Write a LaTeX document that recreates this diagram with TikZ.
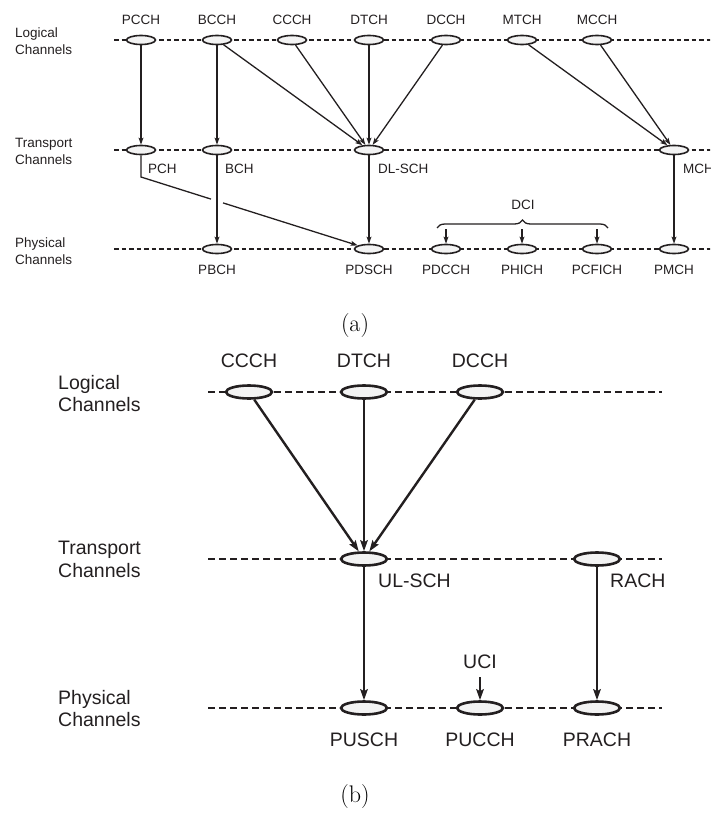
\documentclass[tikz,border=0pt]{standalone}
\usepackage{fontspec}
\newfontfamily\chfont{Liberation Sans}
\usetikzlibrary{arrows.meta,shapes.geometric,decorations.pathreplacing,calc}
\definecolor{ink}{HTML}{231F20}
\definecolor{chfill}{HTML}{F3F3F3}
\begin{document}
\begin{tikzpicture}[x=1pt,y=-1pt,
  % part (a): thin strokes, small text
  chA/.style={ellipse, draw=ink, fill=chfill, line width=1.6pt, minimum width=29pt, minimum height=9pt, inner sep=0pt},
  txtA/.style={font=\chfont\fontsize{13.5}{16}\selectfont, text=ink, inner sep=0pt, anchor=base},
  lvlA/.style={draw=ink, line width=1.4pt, dash pattern=on 4.5pt off 3pt},
  arrA/.style={draw=ink, line width=1.3pt, -{Stealth[length=7pt,width=4.8pt,inset=1.4pt]}},
  linA/.style={draw=ink, line width=1.3pt},
  % part (b): heavy strokes, larger text
  chB/.style={ellipse, draw=ink, fill=chfill, line width=2.6pt, minimum width=46pt, minimum height=13pt, inner sep=0pt},
  txtB/.style={font=\chfont\fontsize{19.5}{23}\selectfont, text=ink, inner sep=0pt, anchor=base},
  lvlB/.style={draw=ink, line width=2.4pt, dash pattern=on 7pt off 4pt},
  arrB/.style={draw=ink, line width=2.4pt, -{Stealth[length=11pt,width=7.5pt,inset=2pt]}},
  capt/.style={font=\rmfamily\fontsize{24}{28}\selectfont, inner sep=0pt}]
\clip (0,0) rectangle (710,813);

% ---------------- (a) downlink ----------------
\draw[lvlA] (114,40) -- (712,40);
\draw[lvlA] (114,150) -- (712,150);
\draw[lvlA] (114,249) -- (712,249);

\node[txtA, anchor=base west] (la1) at (15,38) {Logical};
\node[txtA, anchor=base west] (la2) at (15,55) {Channels};
\node[txtA, anchor=base west] (ta1) at (15,148) {Transport};
\node[txtA, anchor=base west] (ta2) at (15,165) {Channels};
\node[txtA, anchor=base west] (pa1) at (15,247) {Physical};
\node[txtA, anchor=base west] (pa2) at (15,264) {Channels};

% logical channels
\node[chA] (pcch) at (141,40) {};
\node[chA] (bcch) at (217,40) {};
\node[chA] (ccch) at (292,40) {};
\node[chA] (dtch) at (369,40) {};
\node[chA] (dcch) at (446,40) {};
\node[chA] (mtch) at (522,40) {};
\node[chA] (mcch) at (597,40) {};
\node[txtA] (tpcch) at (141,25) {PCCH};
\node[txtA] (tbcch) at (217,25) {BCCH};
\node[txtA] (tccch) at (292,25) {CCCH};
\node[txtA] (tdtch) at (369,25) {DTCH};
\node[txtA] (tdcch) at (446,25) {DCCH};
\node[txtA] (tmtch) at (522,25) {MTCH};
\node[txtA] (tmcch) at (597,25) {MCCH};

% transport channels
\node[chA] (pch) at (141,150) {};
\node[chA] (bch) at (217,150) {};
\node[chA] (dlsch) at (369,150) {};
\node[chA] (mch) at (674,150) {};
\node[txtA, anchor=base west] (tpch) at (148,174) {PCH};
\node[txtA, anchor=base west] (tbch) at (225,174) {BCH};
\node[txtA, anchor=base west] (tdlsch) at (378,174) {DL-SCH};
\node[txtA, anchor=base west] (tmch) at (683,174) {MCH};

% physical channels
\node[chA] (pbch) at (217,249) {};
\node[chA] (pdsch) at (369,249) {};
\node[chA] (pdcch) at (446,249) {};
\node[chA] (phich) at (522,249) {};
\node[chA] (pcfich) at (597,249) {};
\node[chA] (pmch) at (674,249) {};
\node[txtA] (tpbch) at (217,274) {PBCH};
\node[txtA] (tpdsch) at (369,274) {PDSCH};
\node[txtA] (tpdcch) at (446,274) {PDCCH};
\node[txtA] (tphich) at (522,274) {PHICH};
\node[txtA] (tpcfich) at (597,274) {PCFICH};
\node[txtA] (tpmch) at (674,274) {PMCH};

% logical -> transport
\draw[arrA] (pcch) -- (pch);
\draw[arrA] (bcch) -- (bch);
\draw[arrA] (bcch) -- (dlsch);
\draw[arrA] (ccch) -- (dlsch);
\draw[arrA] (dtch) -- (dlsch);
\draw[arrA] (dcch) -- (dlsch);
\draw[arrA] (mtch) -- (mch);
\draw[arrA] (mcch) -- (mch);

% transport -> physical
\draw[arrA] (bch) -- (pbch);
\draw[arrA] (dlsch) -- (pdsch);
\draw[arrA] (mch) -- (pmch);
\coordinate (pchbend) at (141,177);
\coordinate (gapL) at ($(pchbend)!0.307!(pdsch)$);
\coordinate (gapR) at ($(pchbend)!0.360!(pdsch)$);
\draw[linA] (pch) -- (pchbend) -- (gapL);
\draw[arrA] (gapR) -- (pdsch);

% control information brace
\draw[draw=ink, line width=1.3pt, decorate, decoration={brace, amplitude=8pt}] (437,228) -- (608,228);
\node[txtA] (tdci) at (523,209) {DCI};
\coordinate (dci1) at (446,229);
\coordinate (dci2) at (522,229);
\coordinate (dci3) at (597,229);
\draw[arrA] (dci1) -- (pdcch);
\draw[arrA] (dci2) -- (phich);
\draw[arrA] (dci3) -- (pcfich);

\node[capt] (capa) at (355,326) {(a)};

% ---------------- (b) uplink ----------------
\draw[lvlB] (208,392) -- (662,392);
\draw[lvlB] (208,559) -- (662,559);
\draw[lvlB] (208,708) -- (662,708);

\node[txtB, anchor=base west] (lb1) at (58,389) {Logical};
\node[txtB, anchor=base west] (lb2) at (58,411) {Channels};
\node[txtB, anchor=base west] (tb1) at (58,554) {Transport};
\node[txtB, anchor=base west] (tb2) at (58,577) {Channels};
\node[txtB, anchor=base west] (pb1) at (58,704) {Physical};
\node[txtB, anchor=base west] (pb2) at (58,726) {Channels};

\node[chB] (uccch) at (249,392) {};
\node[chB] (udtch) at (364,392) {};
\node[chB] (udcch) at (480,392) {};
\node[txtB] (tuccch) at (249,367) {CCCH};
\node[txtB] (tudtch) at (364,367) {DTCH};
\node[txtB] (tudcch) at (480,367) {DCCH};

\node[chB] (ulsch) at (364,559) {};
\node[chB] (rach) at (597,559) {};
\node[txtB, anchor=base west] (tulsch) at (378,587) {UL-SCH};
\node[txtB, anchor=base west] (trach) at (610,587) {RACH};

\node[chB] (pusch) at (364,708) {};
\node[chB] (pucch) at (480,708) {};
\node[chB] (prach) at (597,708) {};
\node[txtB] (tpusch) at (364,746) {PUSCH};
\node[txtB] (tpucch) at (480,746) {PUCCH};
\node[txtB] (tprach) at (597,746) {PRACH};

\draw[arrB] (uccch) -- (ulsch);
\draw[arrB] (udtch) -- (ulsch);
\draw[arrB] (udcch) -- (ulsch);
\draw[arrB] (ulsch) -- (pusch);
\draw[arrB] (rach) -- (prach);

\node[txtB] (tuci) at (480,668) {UCI};
\coordinate (uci) at (480,677);
\draw[arrB] (uci) -- (pucch);

\node[capt] (capb) at (355,797) {(b)};
\end{tikzpicture}
\end{document}
